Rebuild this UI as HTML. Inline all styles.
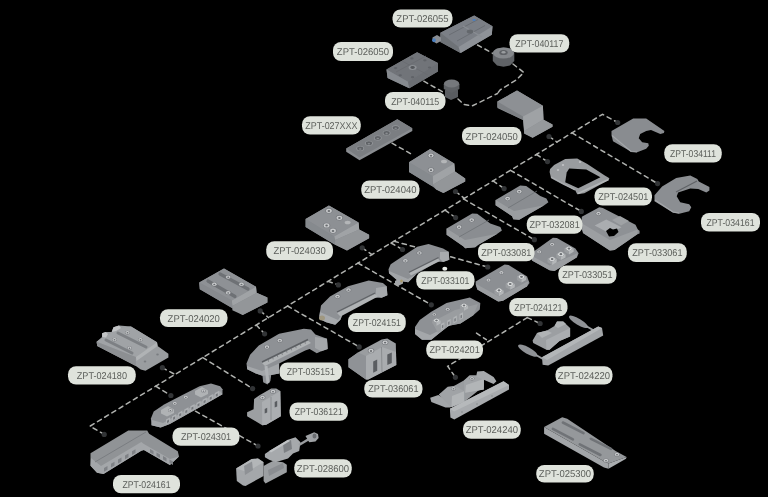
<!DOCTYPE html>
<html><head><meta charset="utf-8"><style>
html,body{margin:0;padding:0;background:#000;}
svg{display:block;will-change:transform;}
text{font-family:"Liberation Sans",sans-serif;font-size:9.9px;text-rendering:geometricPrecision;fill:#5a5d59;opacity:0.99;}
</style></head><body>
<svg width="768" height="497" viewBox="0 0 768 497">
<rect width="768" height="497" fill="#000"/>
<polyline points="104.2,434.4 90.0,426.2 602.5,114.3 617.7,122.5" stroke="#b0b2af" stroke-width="1.5" stroke-dasharray="4.4 4.0" fill="none" stroke-linecap="round"/>
<polyline points="572.0,132.9 657.6,183.6" stroke="#b0b2af" stroke-width="1.5" stroke-dasharray="4.4 4.0" fill="none" stroke-linecap="round"/>
<polyline points="536.5,154.5 547.5,161.6" stroke="#b0b2af" stroke-width="1.5" stroke-dasharray="4.4 4.0" fill="none" stroke-linecap="round"/>
<polyline points="510.5,170.3 581.3,211.4" stroke="#b0b2af" stroke-width="1.5" stroke-dasharray="4.4 4.0" fill="none" stroke-linecap="round"/>
<polyline points="493.0,180.9 504.1,188.6" stroke="#b0b2af" stroke-width="1.5" stroke-dasharray="4.4 4.0" fill="none" stroke-linecap="round"/>
<polyline points="463.5,198.9 534.4,239.7" stroke="#b0b2af" stroke-width="1.5" stroke-dasharray="4.4 4.0" fill="none" stroke-linecap="round"/>
<polyline points="445.0,210.2 455.6,217.6" stroke="#b0b2af" stroke-width="1.5" stroke-dasharray="4.4 4.0" fill="none" stroke-linecap="round"/>
<polyline points="394.0,241.2 487.7,267.0" stroke="#b0b2af" stroke-width="1.5" stroke-dasharray="4.4 4.0" fill="none" stroke-linecap="round"/>
<polyline points="391.0,243.0 402.5,249.5" stroke="#b0b2af" stroke-width="1.5" stroke-dasharray="4.4 4.0" fill="none" stroke-linecap="round"/>
<polyline points="358.0,263.1 431.3,304.8" stroke="#b0b2af" stroke-width="1.5" stroke-dasharray="4.4 4.0" fill="none" stroke-linecap="round"/>
<polyline points="328.0,281.4 338.4,284.9" stroke="#b0b2af" stroke-width="1.5" stroke-dasharray="4.4 4.0" fill="none" stroke-linecap="round"/>
<polyline points="287.5,306.0 359.2,346.9" stroke="#b0b2af" stroke-width="1.5" stroke-dasharray="4.4 4.0" fill="none" stroke-linecap="round"/>
<polyline points="256.3,325.0 264.6,333.8" stroke="#b0b2af" stroke-width="1.5" stroke-dasharray="4.4 4.0" fill="none" stroke-linecap="round"/>
<polyline points="202.8,357.6 252.6,388.6" stroke="#b0b2af" stroke-width="1.5" stroke-dasharray="4.4 4.0" fill="none" stroke-linecap="round"/>
<polyline points="155.7,386.2 170.9,395.5" stroke="#b0b2af" stroke-width="1.5" stroke-dasharray="4.4 4.0" fill="none" stroke-linecap="round"/>
<polyline points="549.0,136.5 557.0,142.0" stroke="#b0b2af" stroke-width="1.5" stroke-dasharray="4.4 4.0" fill="none" stroke-linecap="round"/>
<polyline points="455.5,191.5 464.4,198.3" stroke="#b0b2af" stroke-width="1.5" stroke-dasharray="4.4 4.0" fill="none" stroke-linecap="round"/>
<polyline points="362.2,247.8 372.0,254.6" stroke="#b0b2af" stroke-width="1.5" stroke-dasharray="4.4 4.0" fill="none" stroke-linecap="round"/>
<polyline points="260.2,310.9 268.5,317.6" stroke="#b0b2af" stroke-width="1.5" stroke-dasharray="4.4 4.0" fill="none" stroke-linecap="round"/>
<polyline points="162.4,367.7 175.0,374.5" stroke="#b0b2af" stroke-width="1.5" stroke-dasharray="4.4 4.0" fill="none" stroke-linecap="round"/>
<polyline points="195.5,411.2 258.0,446.0" stroke="#b0b2af" stroke-width="1.5" stroke-dasharray="4.4 4.0" fill="none" stroke-linecap="round"/>
<polyline points="476.5,333.1 486.4,339.7" stroke="#b0b2af" stroke-width="1.5" stroke-dasharray="4.4 4.0" fill="none" stroke-linecap="round"/>
<polyline points="527.3,317.6 447.7,366.3 455.4,377.3" stroke="#b0b2af" stroke-width="1.5" stroke-dasharray="4.4 4.0" fill="none" stroke-linecap="round"/>
<polyline points="527.3,317.6 540.1,323.5" stroke="#b0b2af" stroke-width="1.5" stroke-dasharray="4.4 4.0" fill="none" stroke-linecap="round"/>
<polyline points="477.5,45.0 494.0,54.0" stroke="#b0b2af" stroke-width="1.5" stroke-dasharray="4.4 4.0" fill="none" stroke-linecap="round"/>
<polyline points="513.0,64.0 523.8,72.5 516.2,80.0 500.0,90.0 497.5,93.5" stroke="#b0b2af" stroke-width="1.5" stroke-dasharray="4.4 4.0" fill="none" stroke-linecap="round"/>
<polyline points="423.8,81.2 443.0,92.0" stroke="#b0b2af" stroke-width="1.5" stroke-dasharray="4.4 4.0" fill="none" stroke-linecap="round"/>
<polyline points="458.0,99.0 464.0,104.5 472.0,106.0 497.5,93.5" stroke="#b0b2af" stroke-width="1.5" stroke-dasharray="4.4 4.0" fill="none" stroke-linecap="round"/>
<polyline points="392.0,143.2 413.0,155.0" stroke="#b0b2af" stroke-width="1.5" stroke-dasharray="4.4 4.0" fill="none" stroke-linecap="round"/>
<circle cx="657.6" cy="183.6" r="2.6" fill="#323436"/>
<circle cx="547.5" cy="161.6" r="2.6" fill="#323436"/>
<circle cx="581.3" cy="211.4" r="2.6" fill="#323436"/>
<circle cx="504.1" cy="188.6" r="2.6" fill="#323436"/>
<circle cx="534.4" cy="239.7" r="2.6" fill="#323436"/>
<circle cx="455.6" cy="217.6" r="2.6" fill="#323436"/>
<circle cx="487.7" cy="267.0" r="2.6" fill="#323436"/>
<circle cx="402.5" cy="249.5" r="2.6" fill="#323436"/>
<circle cx="431.3" cy="304.8" r="2.6" fill="#323436"/>
<circle cx="338.4" cy="284.9" r="2.6" fill="#323436"/>
<circle cx="359.2" cy="346.9" r="2.6" fill="#323436"/>
<circle cx="264.6" cy="333.8" r="2.6" fill="#323436"/>
<circle cx="252.6" cy="388.6" r="2.6" fill="#323436"/>
<circle cx="170.9" cy="395.5" r="2.6" fill="#323436"/>
<circle cx="549.0" cy="136.5" r="2.6" fill="#323436"/>
<circle cx="455.5" cy="191.5" r="2.6" fill="#323436"/>
<circle cx="362.2" cy="247.8" r="2.6" fill="#323436"/>
<circle cx="260.2" cy="310.9" r="2.6" fill="#323436"/>
<circle cx="162.4" cy="367.7" r="2.6" fill="#323436"/>
<circle cx="617.7" cy="122.5" r="2.6" fill="#323436"/>
<circle cx="104.2" cy="434.4" r="2.6" fill="#323436"/>
<circle cx="258.0" cy="446.0" r="2.6" fill="#323436"/>
<circle cx="455.4" cy="377.3" r="2.6" fill="#323436"/>
<circle cx="540.1" cy="323.5" r="2.6" fill="#323436"/>
<polygon points="440.4,32.7 474.2,15.6 492.5,26.2 491.8,34.7 460.6,52.9 440.4,41.9" fill="#7c7f84" />
<polygon points="440.4,32.7 474.2,15.6 492.5,26.2 458.6,47.0" fill="#7b7f86" />
<polygon points="440.4,32.7 458.6,47.0 460.6,52.9 440.4,41.9" fill="#6e7277" />
<polygon points="458.6,47.0 492.5,26.2 491.8,34.7 460.6,52.9" fill="#8e9298" />
<polyline points="449.0,35.0 478.0,19.5" fill="none" stroke="#6a6e74" stroke-width="1" />
<polyline points="457.0,41.0 485.0,25.5" fill="none" stroke="#6a6e74" stroke-width="1" />
<polyline points="463.0,26.0 482.0,37.0" fill="none" stroke="#8a8e94" stroke-width="1.2" />
<ellipse cx="470.0" cy="31.5" rx="3.2" ry="2" fill="#63676c" />
<ellipse cx="474.0" cy="20.0" rx="1.6" ry="1" fill="#4a7fc0" />
<polygon points="432.5,37.5 437.0,35.0 441.0,37.5 441.0,41.0 436.5,43.5 432.5,41.0" fill="#8a8d92" />
<ellipse cx="434.0" cy="40.3" rx="1.8" ry="2" fill="#4a7fc0" />
<polygon points="492.8,52.0 497.0,48.5 503.5,47.5 510.0,48.5 514.3,52.0 514.3,61.0 510.0,65.5 503.5,66.7 497.0,65.5 492.8,61.0" fill="#606367" />
<ellipse cx="503.5" cy="53.0" rx="10.5" ry="5.5" fill="#85888c" />
<ellipse cx="503.5" cy="52.5" rx="4.2" ry="2.6" fill="#5f6266" />
<ellipse cx="503.5" cy="52.2" rx="2" ry="1.2" fill="#9a9da0" />
<polygon points="386.5,69.4 417.1,52.2 437.9,62.9 437.9,71.4 409.3,88.3 387.6,77.9" fill="#7a7d82" />
<polygon points="386.5,69.4 417.1,52.2 437.9,62.9 408.0,81.8" fill="#717479" />
<polygon points="386.5,69.4 408.0,81.8 409.3,88.3 387.6,77.9" fill="#868a8f" />
<polygon points="408.0,81.8 437.9,62.9 437.9,71.4 409.3,88.3" fill="#6c6f74" />
<polyline points="396.0,72.0 426.0,56.0" fill="none" stroke="#686b70" stroke-width="0.8" />
<polyline points="402.0,61.0 428.0,75.0" fill="none" stroke="#686b70" stroke-width="0.8" />
<ellipse cx="411.9" cy="58.4" rx="1.7" ry="1.1" fill="#606368" />
<ellipse cx="424.9" cy="60.3" rx="1.7" ry="1.1" fill="#606368" />
<ellipse cx="395.6" cy="68.1" rx="1.7" ry="1.1" fill="#606368" />
<ellipse cx="429.5" cy="67.5" rx="1.7" ry="1.1" fill="#606368" />
<ellipse cx="400.2" cy="75.3" rx="1.7" ry="1.1" fill="#606368" />
<ellipse cx="412.6" cy="77.2" rx="1.7" ry="1.1" fill="#606368" />
<ellipse cx="412.6" cy="67.5" rx="4" ry="2.5" fill="#8d9095" />
<ellipse cx="412.6" cy="67.5" rx="2.2" ry="1.4" fill="#55585c" />
<polygon points="445.0,90.0 445.0,97.0 451.0,100.0 458.0,97.0 458.0,90.0" fill="#5a5d61" />
<ellipse cx="451.6" cy="84.5" rx="7.8" ry="4.2" fill="#6a6d71" />
<polygon points="443.8,84.5 443.8,89.0 451.6,93.0 459.4,89.0 459.4,84.5" fill="#5e6165" />
<ellipse cx="451.6" cy="83.5" rx="7.5" ry="4" fill="#75787c" />
<polygon points="346.2,148.5 397.3,119.2 412.3,128.3 412.3,130.9 359.5,160.2 346.2,151.7" fill="#8a8d91" />
<polygon points="346.2,148.5 397.3,119.2 412.3,128.3 359.5,157.6" fill="#7b7e82" />
<ellipse cx="360.2" cy="148.5" rx="3.9" ry="2.5" fill="#95989c" />
<ellipse cx="360.2" cy="148.5" rx="3.1" ry="1.9" fill="#5f6266" />
<ellipse cx="360.2" cy="149.0" rx="1.3" ry="0.8" fill="#8a8d91" />
<ellipse cx="368.9" cy="143.2" rx="3.9" ry="2.5" fill="#95989c" />
<ellipse cx="368.9" cy="143.2" rx="3.1" ry="1.9" fill="#5f6266" />
<ellipse cx="368.9" cy="143.7" rx="1.3" ry="0.8" fill="#8a8d91" />
<ellipse cx="377.8" cy="138.0" rx="3.9" ry="2.5" fill="#95989c" />
<ellipse cx="377.8" cy="138.0" rx="3.1" ry="1.9" fill="#5f6266" />
<ellipse cx="377.8" cy="138.5" rx="1.3" ry="0.8" fill="#8a8d91" />
<ellipse cx="386.6" cy="132.9" rx="3.9" ry="2.5" fill="#95989c" />
<ellipse cx="386.6" cy="132.9" rx="3.1" ry="1.9" fill="#5f6266" />
<ellipse cx="386.6" cy="133.4" rx="1.3" ry="0.8" fill="#8a8d91" />
<ellipse cx="395.7" cy="127.8" rx="3.9" ry="2.5" fill="#95989c" />
<ellipse cx="395.7" cy="127.8" rx="3.1" ry="1.9" fill="#5f6266" />
<ellipse cx="395.7" cy="128.3" rx="1.3" ry="0.8" fill="#8a8d91" />
<polygon points="497.4,101.5 517.0,90.6 542.9,105.7 543.5,120.0 552.5,124.4 552.5,126.8 532.6,137.7 524.2,133.5 523.0,120.0 497.4,108.0" fill="#8a8d91" />
<polygon points="497.4,101.5 517.0,90.6 542.9,105.7 523.0,116.6" fill="#8d9094" />
<polygon points="523.0,116.6 542.9,105.7 543.5,119.5 524.2,131.0" fill="#9fa2a5" />
<polygon points="524.2,131.0 543.5,119.5 552.5,124.4 552.5,126.8 532.6,137.7 524.2,133.5" fill="#96999c" />
<polygon points="497.4,101.5 523.0,116.6 523.0,120.0 497.4,107.0" fill="#7d8084" />
<polygon points="409.0,162.3 430.2,149.0 454.3,163.5 455.0,171.5 465.2,178.6 465.2,181.6 443.4,193.0 436.2,189.5 432.6,186.4 409.0,172.0" fill="#86898d" />
<polygon points="409.0,162.3 430.2,149.0 454.3,163.5 432.6,176.2" fill="#8d9094" />
<polygon points="432.6,176.2 454.3,163.5 455.0,171.5 433.2,184.6" fill="#a0a3a6" />
<polygon points="433.2,184.6 455.0,171.5 465.2,178.6 465.2,181.6 443.4,193.0 436.2,189.5" fill="#939699" />
<polygon points="409.0,162.3 432.6,176.2 432.6,186.4 409.0,172.0" fill="#868a8e" />
<ellipse cx="431.0" cy="155.5" rx="3.25" ry="2.4375" fill="#76797d" /><ellipse cx="431.0" cy="155.5" rx="2.6" ry="1.9500000000000002" fill="#c8cacc" /><ellipse cx="431.0" cy="155.7" rx="1.1700000000000002" ry="0.8775000000000001" fill="#6a6d71" />
<ellipse cx="431.0" cy="170.0" rx="3.25" ry="2.4375" fill="#76797d" /><ellipse cx="431.0" cy="170.0" rx="2.6" ry="1.9500000000000002" fill="#c8cacc" /><ellipse cx="431.0" cy="170.2" rx="1.1700000000000002" ry="0.8775000000000001" fill="#6a6d71" />
<ellipse cx="444.0" cy="161.5" rx="3" ry="1.8" fill="#b4b6b8" />
<polygon points="305.6,219.0 328.9,205.6 358.6,222.5 359.2,229.5 369.1,234.7 369.1,238.2 347.0,250.5 334.0,244.0 305.6,227.0" fill="#86898d" />
<polygon points="305.6,219.0 328.9,205.6 358.6,222.5 334.2,236.5" fill="#8d9094" />
<polygon points="334.2,236.5 358.6,222.5 359.2,229.5 335.3,240.0" fill="#a0a3a6" />
<polygon points="335.3,240.0 359.2,229.5 369.1,234.7 369.1,238.2 347.0,250.5 334.5,244.5" fill="#939699" />
<polygon points="305.6,219.0 334.2,236.5 334.5,244.5 305.6,227.0" fill="#868a8e" />
<ellipse cx="328.9" cy="210.8" rx="3.625" ry="2.71875" fill="#76797d" /><ellipse cx="328.9" cy="210.8" rx="2.9" ry="2.175" fill="#c8cacc" /><ellipse cx="328.9" cy="211.0" rx="1.305" ry="0.9787499999999999" fill="#6a6d71" />
<ellipse cx="339.4" cy="217.8" rx="3.625" ry="2.71875" fill="#76797d" /><ellipse cx="339.4" cy="217.8" rx="2.9" ry="2.175" fill="#c8cacc" /><ellipse cx="339.4" cy="218.0" rx="1.305" ry="0.9787499999999999" fill="#6a6d71" />
<ellipse cx="326.6" cy="225.4" rx="3.625" ry="2.71875" fill="#76797d" /><ellipse cx="326.6" cy="225.4" rx="2.9" ry="2.175" fill="#c8cacc" /><ellipse cx="326.6" cy="225.6" rx="1.305" ry="0.9787499999999999" fill="#6a6d71" />
<ellipse cx="333.0" cy="230.7" rx="3.625" ry="2.71875" fill="#76797d" /><ellipse cx="333.0" cy="230.7" rx="2.9" ry="2.175" fill="#c8cacc" /><ellipse cx="333.0" cy="230.9" rx="1.305" ry="0.9787499999999999" fill="#6a6d71" />
<ellipse cx="347.6" cy="222.5" rx="3" ry="1.8" fill="#b4b6b8" />
<polygon points="199.2,282.5 224.0,268.6 256.0,286.7 256.6,292.8 267.4,297.6 267.4,302.4 242.7,315.1 231.8,308.0 199.8,289.2" fill="#86898d" />
<polygon points="199.2,282.5 224.0,268.6 256.0,286.7 231.8,300.6" fill="#8e9195" />
<polygon points="231.8,300.6 256.0,286.7 256.6,292.8 232.4,306.0" fill="#a0a3a6" />
<polygon points="232.4,306.0 256.6,292.8 267.4,297.6 267.4,302.4 242.7,315.1 232.4,310.3" fill="#939699" />
<polygon points="199.2,282.5 231.8,300.6 232.4,308.0 199.8,289.2" fill="#878a8e" />
<polyline points="208.0,281.0 235.0,296.5" fill="none" stroke="#6e7175" stroke-width="3.2" stroke-linecap="round"/>
<polyline points="220.0,274.0 248.0,289.0" fill="none" stroke="#6e7175" stroke-width="3.2" stroke-linecap="round"/>
<ellipse cx="214.3" cy="284.3" rx="2.875" ry="2.15625" fill="#76797d" /><ellipse cx="214.3" cy="284.3" rx="2.3" ry="1.7249999999999999" fill="#c8cacc" /><ellipse cx="214.3" cy="284.5" rx="1.035" ry="0.77625" fill="#6a6d71" />
<ellipse cx="228.2" cy="292.8" rx="2.875" ry="2.15625" fill="#76797d" /><ellipse cx="228.2" cy="292.8" rx="2.3" ry="1.7249999999999999" fill="#c8cacc" /><ellipse cx="228.2" cy="293.0" rx="1.035" ry="0.77625" fill="#6a6d71" />
<ellipse cx="228.2" cy="277.1" rx="2.875" ry="2.15625" fill="#76797d" /><ellipse cx="228.2" cy="277.1" rx="2.3" ry="1.7249999999999999" fill="#c8cacc" /><ellipse cx="228.2" cy="277.3" rx="1.035" ry="0.77625" fill="#6a6d71" />
<ellipse cx="241.5" cy="284.3" rx="2.875" ry="2.15625" fill="#76797d" /><ellipse cx="241.5" cy="284.3" rx="2.3" ry="1.7249999999999999" fill="#c8cacc" /><ellipse cx="241.5" cy="284.5" rx="1.035" ry="0.77625" fill="#6a6d71" />
<polygon points="96.6,341.7 102.1,336.9 102.1,333.3 105.7,332.1 111.7,332.1 113.5,327.2 119.0,325.4 131.0,326.6 157.0,342.3 157.6,346.0 168.4,353.8 168.4,357.4 145.5,370.7 140.7,369.5 135.9,365.9 97.2,345.9" fill="#9a9da0" />
<polygon points="96.6,341.7 119.0,328.0 131.0,326.6 157.0,342.3 135.9,357.0" fill="#a0a3a6" />
<polygon points="135.9,357.0 157.0,342.3 157.6,346.0 136.5,361.0" fill="#b0b3b5" />
<polygon points="96.6,341.7 135.9,357.0 135.9,365.9 97.2,345.9" fill="#8c8f92" />
<polyline points="106.0,340.0 132.0,353.0" fill="none" stroke="#7d8084" stroke-width="3" stroke-linecap="round"/>
<polyline points="118.0,333.0 146.0,347.0" fill="none" stroke="#7d8084" stroke-width="3" stroke-linecap="round"/>
<ellipse cx="114.5" cy="339.5" rx="2.5" ry="1.875" fill="#76797d" /><ellipse cx="114.5" cy="339.5" rx="2.0" ry="1.5" fill="#c8cacc" /><ellipse cx="114.5" cy="339.7" rx="0.9" ry="0.675" fill="#6a6d71" />
<ellipse cx="129.5" cy="348.0" rx="2.5" ry="1.875" fill="#76797d" /><ellipse cx="129.5" cy="348.0" rx="2.0" ry="1.5" fill="#c8cacc" /><ellipse cx="129.5" cy="348.2" rx="0.9" ry="0.675" fill="#6a6d71" />
<ellipse cx="127.5" cy="332.5" rx="2.5" ry="1.875" fill="#76797d" /><ellipse cx="127.5" cy="332.5" rx="2.0" ry="1.5" fill="#c8cacc" /><ellipse cx="127.5" cy="332.7" rx="0.9" ry="0.675" fill="#6a6d71" />
<ellipse cx="140.5" cy="339.5" rx="2.5" ry="1.875" fill="#76797d" /><ellipse cx="140.5" cy="339.5" rx="2.0" ry="1.5" fill="#c8cacc" /><ellipse cx="140.5" cy="339.7" rx="0.9" ry="0.675" fill="#6a6d71" />
<ellipse cx="157.5" cy="354.5" rx="1.3" ry="0.9" fill="#7a7d81" />
<ellipse cx="145.0" cy="361.5" rx="1.3" ry="0.9" fill="#7a7d81" />
<polygon points="102.1,336.9 102.1,333.3 105.7,332.1 108.0,334.0 106.0,337.5" fill="#c2c4c6" />
<polygon points="111.7,332.1 113.5,327.2 119.0,325.4 121.0,328.0 116.0,331.0" fill="#c2c4c6" />
<polygon points="611.5,131.1 633.2,118.6 646.2,118.6 664.4,131.1 663.9,133.1 660.3,134.1 651.0,130.0 646.2,131.1 640.2,134.1 638.7,138.2 642.2,142.2 648.3,143.2 648.8,145.7 646.2,148.7 637.2,152.3 631.2,151.7 613.0,141.2 611.5,135.1" fill="#898c90" />
<polyline points="612.0,135.5 631.0,151.5 637.0,152.0" fill="none" stroke="#a3a6a9" stroke-width="1.2" />
<polygon points="654.5,195.2 662.1,186.6 676.2,178.1 690.3,175.5 697.3,179.1 698.8,181.6 709.4,187.1 709.4,190.6 706.3,192.6 698.3,189.1 690.3,188.6 678.2,192.6 676.7,196.2 680.2,202.2 689.2,204.2 691.3,207.2 689.2,211.3 679.2,213.8 673.2,212.8 654.5,201.2" fill="#8b8e92" />
<polyline points="655.0,200.0 673.0,212.0 679.0,213.0" fill="none" stroke="#a3a6a9" stroke-width="1.2" />
<polyline points="676.0,192.0 697.0,181.0" fill="none" stroke="#5f6266" stroke-width="1.2" />
<polygon points="550.1,169.1 554.1,165.1 565.2,159.1 577.2,158.6 587.3,164.1 604.4,175.2 609.4,178.2 608.4,180.2 584.3,193.3 577.2,194.3 575.2,190.2 563.1,184.7 551.1,178.2 549.6,172.1" fill="#999c9f" />
<polygon points="566.7,172.6 569.2,168.6 586.3,169.6 600.4,177.2 578.2,188.2 565.2,182.2" fill="#000" />
<polyline points="578.0,193.5 608.5,179.5" fill="none" stroke="#b3b6b8" stroke-width="1.6" />
<polyline points="551.0,177.0 575.0,190.0" fill="none" stroke="#aaadb0" stroke-width="1.4" />
<ellipse cx="558.0" cy="170.0" rx="1.2" ry="0.9" fill="#c0c2c4" />
<ellipse cx="563.0" cy="165.0" rx="1.2" ry="0.9" fill="#c0c2c4" />
<ellipse cx="580.0" cy="162.0" rx="1.2" ry="0.9" fill="#c0c2c4" />
<polygon points="495.6,200.1 520.2,185.6 526.2,186.1 540.3,196.1 546.4,198.6 548.4,202.2 544.3,205.2 525.2,216.2 519.2,219.8 513.2,219.3 512.2,216.2 495.6,205.2" fill="#8a8d91" />
<polygon points="495.6,205.2 495.6,200.1 514.0,211.0 544.3,205.2 525.2,216.2 519.2,219.8 513.2,219.3 512.2,216.2" fill="#9a9da0" />
<polyline points="508.0,208.0 537.0,191.0" fill="none" stroke="#6f7276" stroke-width="0.8" />
<ellipse cx="507.6" cy="198.6" rx="3.0" ry="2.25" fill="#76797d" /><ellipse cx="507.6" cy="198.6" rx="2.4" ry="1.7999999999999998" fill="#c8cacc" /><ellipse cx="507.6" cy="198.8" rx="1.08" ry="0.8099999999999999" fill="#6a6d71" />
<ellipse cx="519.2" cy="191.6" rx="3.0" ry="2.25" fill="#76797d" /><ellipse cx="519.2" cy="191.6" rx="2.4" ry="1.7999999999999998" fill="#c8cacc" /><ellipse cx="519.2" cy="191.8" rx="1.08" ry="0.8099999999999999" fill="#6a6d71" />
<polygon points="446.6,228.6 472.2,213.5 477.2,213.8 490.3,223.6 500.4,227.1 501.9,230.6 497.4,233.7 478.3,244.7 475.2,247.2 465.2,248.3 463.2,246.2 446.6,234.7" fill="#8a8d91" />
<polygon points="446.6,234.7 446.6,228.6 465.0,240.0 497.4,233.7 478.3,244.7 475.2,247.2 465.2,248.3 463.2,246.2" fill="#9a9da0" />
<polyline points="459.0,237.0 489.0,220.0" fill="none" stroke="#6f7276" stroke-width="0.8" />
<ellipse cx="459.1" cy="227.1" rx="3.0" ry="2.25" fill="#76797d" /><ellipse cx="459.1" cy="227.1" rx="2.4" ry="1.7999999999999998" fill="#c8cacc" /><ellipse cx="459.1" cy="227.3" rx="1.08" ry="0.8099999999999999" fill="#6a6d71" />
<ellipse cx="471.7" cy="220.1" rx="3.0" ry="2.25" fill="#76797d" /><ellipse cx="471.7" cy="220.1" rx="2.4" ry="1.7999999999999998" fill="#c8cacc" /><ellipse cx="471.7" cy="220.3" rx="1.08" ry="0.8099999999999999" fill="#6a6d71" />
<polygon points="581.8,216.7 599.3,207.3 602.8,207.9 635.5,224.8 637.8,229.5 639.6,230.7 639.6,233.6 637.3,234.2 614.5,249.9 609.8,250.5 583.0,233.0 581.3,228.3" fill="#8e9195" />
<polygon points="583.0,224.0 609.8,240.0 637.8,229.5 637.3,234.2 614.5,249.9 609.8,250.5 583.0,233.0" fill="#9c9fa2" />
<polygon points="594.7,225.4 606.3,219.6 621.5,227.2 609.8,233.6" fill="#aaadb0" />
<polygon points="612.0,220.0 620.0,216.0 629.0,221.0 621.0,225.5" fill="#9fa2a5" />
<polygon points="606.0,231.0 610.0,228.0 613.0,229.5 617.0,228.5 618.5,232.0 614.0,236.0 609.0,236.5" fill="#000" />
<ellipse cx="598.5" cy="213.5" rx="2.75" ry="2.0625" fill="#76797d" /><ellipse cx="598.5" cy="213.5" rx="2.2" ry="1.6500000000000001" fill="#c8cacc" /><ellipse cx="598.5" cy="213.7" rx="0.9900000000000001" ry="0.7425" fill="#6a6d71" />
<polygon points="534.4,250.9 552.9,237.7 556.9,238.0 575.4,248.5 578.6,253.3 577.0,257.3 554.5,271.0 549.6,270.2 532.0,260.6 531.1,255.7" fill="#8c8f93" />
<polygon points="532.0,256.0 549.6,265.5 577.0,253.5 577.0,257.3 554.5,271.0 549.6,270.2 532.0,260.6" fill="#9b9ea1" />
<polygon points="564.4,248.6 569.0,246.0 573.6,248.6 569.0,251.2" fill="#a9acaf" /><polygon points="564.4,248.6 569.0,251.2 569.0,254.4 564.4,251.8" fill="#9a9da0" /><polygon points="569.0,251.2 573.6,248.6 573.6,251.8 569.0,254.4" fill="#b4b7b9" /><ellipse cx="569.0" cy="248.6" rx="2.6" ry="1.9" fill="#e2e4e4" /><ellipse cx="569.0" cy="248.6" rx="1.5" ry="1.1" fill="#6e7175" />
<polygon points="556.3,254.2 560.9,251.6 565.5,254.2 560.9,256.8" fill="#a9acaf" /><polygon points="556.3,254.2 560.9,256.8 560.9,260.0 556.3,257.4" fill="#9a9da0" /><polygon points="560.9,256.8 565.5,254.2 565.5,257.4 560.9,260.0" fill="#b4b7b9" /><ellipse cx="560.9" cy="254.2" rx="2.6" ry="1.9" fill="#e2e4e4" /><ellipse cx="560.9" cy="254.2" rx="1.5" ry="1.1" fill="#6e7175" />
<polygon points="547.5,259.1 552.1,256.5 556.7,259.1 552.1,261.7" fill="#a9acaf" /><polygon points="547.5,259.1 552.1,261.7 552.1,264.9 547.5,262.3" fill="#9a9da0" /><polygon points="552.1,261.7 556.7,259.1 556.7,262.3 552.1,264.9" fill="#b4b7b9" /><ellipse cx="552.1" cy="259.1" rx="2.6" ry="1.9" fill="#e2e4e4" /><ellipse cx="552.1" cy="259.1" rx="1.5" ry="1.1" fill="#6e7175" />
<ellipse cx="552.1" cy="244.2" rx="2.5" ry="1.875" fill="#76797d" /><ellipse cx="552.1" cy="244.2" rx="2" ry="1.5" fill="#c8cacc" /><ellipse cx="552.1" cy="244.4" rx="0.9" ry="0.675" fill="#6a6d71" />
<ellipse cx="539.2" cy="251.7" rx="2.5" ry="1.875" fill="#76797d" /><ellipse cx="539.2" cy="251.7" rx="2" ry="1.5" fill="#c8cacc" /><ellipse cx="539.2" cy="251.9" rx="0.9" ry="0.675" fill="#6a6d71" />
<polygon points="475.7,281.5 504.6,264.6 508.6,265.1 527.1,276.6 529.5,283.1 527.1,286.3 503.0,300.8 498.2,301.6 477.3,289.5 475.7,284.7" fill="#8c8f93" />
<polygon points="476.0,284.0 499.0,296.5 528.5,281.0 527.1,286.3 503.0,300.8 498.2,301.6 477.3,289.5" fill="#9b9ea1" />
<polygon points="516.9,276.8 521.5,274.2 526.1,276.8 521.5,279.4" fill="#a9acaf" /><polygon points="516.9,276.8 521.5,279.4 521.5,282.6 516.9,280.0" fill="#9a9da0" /><polygon points="521.5,279.4 526.1,276.8 526.1,280.0 521.5,282.6" fill="#b4b7b9" /><ellipse cx="521.5" cy="276.8" rx="2.6" ry="1.9" fill="#e2e4e4" /><ellipse cx="521.5" cy="276.8" rx="1.5" ry="1.1" fill="#6e7175" />
<polygon points="505.6,284.0 510.2,281.4 514.8,284.0 510.2,286.6" fill="#a9acaf" /><polygon points="505.6,284.0 510.2,286.6 510.2,289.8 505.6,287.2" fill="#9a9da0" /><polygon points="510.2,286.6 514.8,284.0 514.8,287.2 510.2,289.8" fill="#b4b7b9" /><ellipse cx="510.2" cy="284.0" rx="2.6" ry="1.9" fill="#e2e4e4" /><ellipse cx="510.2" cy="284.0" rx="1.5" ry="1.1" fill="#6e7175" />
<polygon points="494.4,290.4 499.0,287.8 503.6,290.4 499.0,293.0" fill="#a9acaf" /><polygon points="494.4,290.4 499.0,293.0 499.0,296.2 494.4,293.6" fill="#9a9da0" /><polygon points="499.0,293.0 503.6,290.4 503.6,293.6 499.0,296.2" fill="#b4b7b9" /><ellipse cx="499.0" cy="290.4" rx="2.6" ry="1.9" fill="#e2e4e4" /><ellipse cx="499.0" cy="290.4" rx="1.5" ry="1.1" fill="#6e7175" />
<ellipse cx="501.4" cy="272.6" rx="2.5" ry="1.875" fill="#76797d" /><ellipse cx="501.4" cy="272.6" rx="2" ry="1.5" fill="#c8cacc" /><ellipse cx="501.4" cy="272.8" rx="0.9" ry="0.675" fill="#6a6d71" />
<ellipse cx="488.5" cy="279.9" rx="2.5" ry="1.875" fill="#76797d" /><ellipse cx="488.5" cy="279.9" rx="2" ry="1.5" fill="#c8cacc" /><ellipse cx="488.5" cy="280.1" rx="0.9" ry="0.675" fill="#6a6d71" />
<polygon points="388.5,269.2 390.7,264.2 417.2,246.7 428.5,243.9 443.1,248.4 448.7,251.8 449.3,259.7 443.1,261.9 437.5,261.4 417.2,273.2 408.2,282.2 400.3,281.1 396.9,280.0 389.0,273.2" fill="#8c8f93" />
<polygon points="389.0,271.0 408.0,279.0 437.5,261.4 417.2,273.2 408.2,282.2 400.3,281.1 396.9,280.0 389.0,273.2" fill="#a2a5a8" />
<polygon points="440.0,252.0 448.7,251.8 449.3,259.7 443.1,261.9 440.0,259.0" fill="#a8abae" />
<polygon points="409.0,273.0 438.0,258.5 440.0,261.0 411.0,275.5" fill="#b0b3b5" />
<polyline points="409.0,272.2 438.5,257.5" fill="none" stroke="#606367" stroke-width="1.2" />
<polygon points="395.0,281.0 400.0,278.0 403.0,280.0 403.0,283.5 398.0,286.0 395.0,284.0" fill="#a3a6a9" />
<ellipse cx="401.5" cy="281.0" rx="1.3" ry="1.6" fill="#a89a6a" />
<ellipse cx="405.4" cy="260.8" rx="2.875" ry="2.15625" fill="#76797d" /><ellipse cx="405.4" cy="260.8" rx="2.3" ry="1.7249999999999999" fill="#c8cacc" /><ellipse cx="405.4" cy="261.0" rx="1.035" ry="0.77625" fill="#6a6d71" />
<ellipse cx="419.4" cy="252.9" rx="2.875" ry="2.15625" fill="#76797d" /><ellipse cx="419.4" cy="252.9" rx="2.3" ry="1.7249999999999999" fill="#c8cacc" /><ellipse cx="419.4" cy="253.1" rx="1.035" ry="0.77625" fill="#6a6d71" />
<ellipse cx="444.8" cy="268.7" rx="2.5" ry="2" fill="#e8eae6" />
<polygon points="320.4,309.4 321.0,305.5 330.0,296.5 348.1,286.2 368.7,280.4 382.9,283.0 386.7,286.2 387.4,295.2 381.6,297.8 372.6,297.8 342.9,313.2 340.4,319.7 335.2,324.8 326.2,322.3 319.7,319.0 319.1,315.8" fill="#8e9195" />
<polygon points="320.0,312.0 338.0,320.0 342.9,313.2 340.4,319.7 335.2,324.8 326.2,322.3 319.7,319.0" fill="#a6a9ac" />
<polygon points="376.0,288.0 386.7,286.2 387.4,295.2 381.6,297.8 376.0,296.0" fill="#a6a9ac" />
<polygon points="337.0,313.0 375.0,294.0 378.0,296.5 340.5,316.5" fill="#b0b3b5" />
<polyline points="337.0,312.0 375.0,293.0" fill="none" stroke="#606367" stroke-width="1.3" />
<ellipse cx="337.5" cy="296.5" rx="2.875" ry="2.15625" fill="#76797d" /><ellipse cx="337.5" cy="296.5" rx="2.3" ry="1.7249999999999999" fill="#c8cacc" /><ellipse cx="337.5" cy="296.7" rx="1.035" ry="0.77625" fill="#6a6d71" />
<ellipse cx="348.5" cy="290.0" rx="2.875" ry="2.15625" fill="#76797d" /><ellipse cx="348.5" cy="290.0" rx="2.3" ry="1.7249999999999999" fill="#c8cacc" /><ellipse cx="348.5" cy="290.2" rx="1.035" ry="0.77625" fill="#6a6d71" />
<ellipse cx="322.0" cy="318.0" rx="3" ry="2.5" fill="#a09880" />
<polygon points="246.5,363.5 250.1,354.8 258.8,345.4 279.1,333.8 303.8,328.7 311.0,329.4 315.4,334.5 327.0,338.8 327.7,349.0 321.2,351.2 316.8,353.3 309.6,349.0 305.2,350.4 279.1,363.5 279.1,373.6 271.2,375.1 270.4,380.9 267.5,384.5 263.2,382.3 262.5,375.8 255.9,373.6 247.2,369.3" fill="#8e9195" />
<polygon points="247.0,366.0 262.0,371.0 279.1,363.5 279.1,373.6 271.2,375.1 262.5,375.8 255.9,373.6 247.2,369.3" fill="#a4a7aa" />
<polygon points="315.0,337.0 327.0,338.8 327.7,349.0 321.2,351.2 315.0,348.0" fill="#a4a7aa" />
<polygon points="262.0,363.0 308.0,340.5 311.0,343.0 265.0,366.0" fill="#b0b3b5" />
<polyline points="262.0,362.0 308.0,339.5" fill="none" stroke="#5c5f63" stroke-width="1.4" />
<polyline points="268.0,359.5 268.6,361.7" fill="none" stroke="#6a6d71" stroke-width="0.7" />
<polyline points="272.6,357.2 273.2,359.4" fill="none" stroke="#6a6d71" stroke-width="0.7" />
<polyline points="277.2,355.0 277.8,357.2" fill="none" stroke="#6a6d71" stroke-width="0.7" />
<polyline points="281.8,352.8 282.4,354.9" fill="none" stroke="#6a6d71" stroke-width="0.7" />
<polyline points="286.4,350.5 287.0,352.7" fill="none" stroke="#6a6d71" stroke-width="0.7" />
<polyline points="291.0,348.2 291.6,350.4" fill="none" stroke="#6a6d71" stroke-width="0.7" />
<polyline points="295.6,346.0 296.2,348.2" fill="none" stroke="#6a6d71" stroke-width="0.7" />
<polyline points="300.2,343.8 300.8,345.9" fill="none" stroke="#6a6d71" stroke-width="0.7" />
<polyline points="304.8,341.5 305.4,343.7" fill="none" stroke="#6a6d71" stroke-width="0.7" />
<polyline points="266.0,366.0 268.0,383.0" fill="none" stroke="#b0b3b6" stroke-width="3" />
<ellipse cx="267.0" cy="347.0" rx="2.875" ry="2.15625" fill="#76797d" /><ellipse cx="267.0" cy="347.0" rx="2.3" ry="1.7249999999999999" fill="#c8cacc" /><ellipse cx="267.0" cy="347.2" rx="1.035" ry="0.77625" fill="#6a6d71" />
<ellipse cx="279.8" cy="340.5" rx="2.875" ry="2.15625" fill="#76797d" /><ellipse cx="279.8" cy="340.5" rx="2.3" ry="1.7249999999999999" fill="#c8cacc" /><ellipse cx="279.8" cy="340.7" rx="1.035" ry="0.77625" fill="#6a6d71" />
<polygon points="348.5,359.3 358.0,352.5 365.9,348.0 381.7,339.6 387.3,338.5 395.8,343.5 396.3,364.9 368.2,379.6 365.9,379.6 348.5,367.2" fill="#9a9da0" />
<polygon points="366.0,356.0 382.0,347.0 396.0,352.0 396.3,364.9 368.2,379.6 365.9,379.6" fill="#a9acaf" />
<polygon points="348.5,359.3 358.0,352.5 366.0,356.0 365.9,379.6 348.5,367.2" fill="#8f9296" />
<polyline points="381.5,347.0 382.0,372.0" fill="none" stroke="#8a8d90" stroke-width="1" />
<polygon points="373.2,361.5 377.2,359.5 377.2,370.8 373.2,372.8" fill="#5a5d61" />
<polygon points="387.3,354.5 391.8,352.5 391.8,362.9 387.3,364.9" fill="#5a5d61" />
<ellipse cx="371.0" cy="350.8" rx="3.25" ry="2.4375" fill="#76797d" /><ellipse cx="371.0" cy="350.8" rx="2.6" ry="1.9500000000000002" fill="#c8cacc" /><ellipse cx="371.0" cy="351.0" rx="1.1700000000000002" ry="0.8775000000000001" fill="#6a6d71" />
<ellipse cx="385.1" cy="342.4" rx="3.25" ry="2.4375" fill="#76797d" /><ellipse cx="385.1" cy="342.4" rx="2.6" ry="1.9500000000000002" fill="#c8cacc" /><ellipse cx="385.1" cy="342.6" rx="1.1700000000000002" ry="0.8775000000000001" fill="#6a6d71" />
<polygon points="247.1,412.2 253.6,409.2 254.1,399.1 259.1,395.6 271.2,388.6 276.2,388.6 280.3,391.1 280.8,416.2 266.2,424.8 262.2,425.3 247.1,416.2" fill="#9c9fa2" />
<polygon points="262.0,402.0 280.3,391.1 280.8,416.2 266.2,424.8 262.2,425.3" fill="#abaeb1" />
<polyline points="271.0,397.0 271.0,420.0" fill="none" stroke="#8a8d90" stroke-width="1" />
<polygon points="264.7,409.0 267.2,407.8 267.2,412.5 264.7,413.5" fill="#5a5d61" />
<polygon points="274.7,402.0 277.2,400.8 277.2,406.5 274.7,407.5" fill="#5a5d61" />
<ellipse cx="262.5" cy="397.5" rx="2.875" ry="2.15625" fill="#76797d" /><ellipse cx="262.5" cy="397.5" rx="2.3" ry="1.7249999999999999" fill="#c8cacc" /><ellipse cx="262.5" cy="397.7" rx="1.035" ry="0.77625" fill="#6a6d71" />
<ellipse cx="273.0" cy="391.5" rx="2.875" ry="2.15625" fill="#76797d" /><ellipse cx="273.0" cy="391.5" rx="2.3" ry="1.7249999999999999" fill="#c8cacc" /><ellipse cx="273.0" cy="391.7" rx="1.035" ry="0.77625" fill="#6a6d71" />
<polygon points="415.0,327.0 419.7,320.0 431.3,311.8 446.5,303.1 469.8,297.6 480.3,303.1 479.8,309.5 473.3,315.3 460.5,323.5 448.8,325.8 438.3,334.0 431.3,339.8 422.0,339.8 415.0,334.0" fill="#8e9195" />
<polygon points="415.0,329.0 430.0,335.0 448.8,325.8 438.3,334.0 431.3,339.8 422.0,339.8 415.0,334.0" fill="#a4a7aa" />
<polygon points="432.0,322.0 455.0,310.0 478.0,304.0 473.3,315.3 460.5,323.5 448.8,325.8 438.0,333.0" fill="#9a9da0" />
<polygon points="441.0,324.0 444.4,322.2 444.4,328.2 441.0,330.0" fill="#b2b5b7" />
<polygon points="441.9,325.4 443.4,324.6 443.4,327.6 441.9,328.4" fill="#7a7d81" />
<polygon points="447.2,320.7 450.6,318.9 450.6,324.9 447.2,326.7" fill="#b2b5b7" />
<polygon points="448.1,322.1 449.6,321.3 449.6,324.3 448.1,325.1" fill="#7a7d81" />
<polygon points="453.4,317.4 456.8,315.6 456.8,321.6 453.4,323.4" fill="#b2b5b7" />
<polygon points="454.3,318.8 455.8,318.0 455.8,321.0 454.3,321.8" fill="#7a7d81" />
<polygon points="459.6,314.1 463.0,312.3 463.0,318.3 459.6,320.1" fill="#b2b5b7" />
<polygon points="460.5,315.5 462.0,314.7 462.0,317.7 460.5,318.5" fill="#7a7d81" />
<polygon points="432.4,320.5 436.5,318.2 440.6,320.5 436.5,322.8" fill="#a9acaf" /><polygon points="432.4,320.5 436.5,322.8 436.5,325.7 432.4,323.4" fill="#9a9da0" /><polygon points="436.5,322.8 440.6,320.5 440.6,323.4 436.5,325.7" fill="#b4b7b9" /><ellipse cx="436.5" cy="320.5" rx="2.3400000000000003" ry="1.71" fill="#e2e4e4" /><ellipse cx="436.5" cy="320.5" rx="1.35" ry="0.9900000000000001" fill="#6e7175" />
<polygon points="459.9,305.5 464.0,303.2 468.1,305.5 464.0,307.8" fill="#a9acaf" /><polygon points="459.9,305.5 464.0,307.8 464.0,310.7 459.9,308.4" fill="#9a9da0" /><polygon points="464.0,307.8 468.1,305.5 468.1,308.4 464.0,310.7" fill="#b4b7b9" /><ellipse cx="464.0" cy="305.5" rx="2.3400000000000003" ry="1.71" fill="#e2e4e4" /><ellipse cx="464.0" cy="305.5" rx="1.35" ry="0.9900000000000001" fill="#6e7175" />
<ellipse cx="447.7" cy="309.3" rx="2.5" ry="1.875" fill="#76797d" /><ellipse cx="447.7" cy="309.3" rx="2.0" ry="1.5" fill="#c8cacc" /><ellipse cx="447.7" cy="309.5" rx="0.9" ry="0.675" fill="#6a6d71" />
<ellipse cx="434.3" cy="314.5" rx="2.25" ry="1.6875" fill="#76797d" /><ellipse cx="434.3" cy="314.5" rx="1.8" ry="1.35" fill="#c8cacc" /><ellipse cx="434.3" cy="314.7" rx="0.81" ry="0.6075" fill="#6a6d71" />
<ellipse cx="578.5" cy="321.8" rx="11" ry="3.1" fill="#8f9296" transform="rotate(31 578.5 321.8)"/>
<polyline points="586.0,326.0 593.0,330.0" fill="none" stroke="#9a9da0" stroke-width="2" />
<ellipse cx="527.8" cy="350.6" rx="11" ry="3.3" fill="#8f9296" transform="rotate(29 527.8 350.6)"/>
<polyline points="536.0,355.0 543.0,359.0" fill="none" stroke="#9a9da0" stroke-width="2" />
<polygon points="542.0,357.2 598.2,326.6 602.0,327.9 603.2,335.4 548.2,365.4 542.6,364.8" fill="#a3a6a9" />
<polygon points="542.0,357.2 598.2,326.6 602.0,327.9 547.0,360.0" fill="#b3b6b8" />
<polygon points="532.6,340.4 537.0,332.9 547.0,330.4 554.5,326.0 557.0,321.6 563.2,321.6 570.1,327.9 570.1,336.6 559.5,341.0 549.5,349.8 546.4,349.8 533.2,342.9" fill="#9c9fa2" />
<polygon points="546.0,340.0 570.1,327.9 570.1,336.6 559.5,341.0 549.5,349.8 546.4,349.8" fill="#aaadb0" />
<polygon points="537.0,332.9 547.0,330.4 552.0,333.0 542.0,338.0" fill="#b0b3b5" />
<polygon points="554.5,326.0 557.0,321.6 563.2,321.6 566.0,324.0 558.0,328.0" fill="#b0b3b5" />
<polygon points="430.2,397.7 438.4,395.0 449.9,402.1 451.5,407.0 449.9,407.6 445.5,407.6 431.3,402.1" fill="#a3a6a9" />
<polygon points="438.9,394.4 470.0,377.0 484.0,379.0 484.0,386.0 464.1,402.1 451.5,407.0" fill="#999c9f" />
<polygon points="438.9,394.4 447.7,386.8 455.4,385.7 464.1,391.2 464.1,402.1 451.5,407.0" fill="#a0a3a6" />
<polygon points="452.0,396.0 464.1,391.2 464.1,402.1 451.5,407.0" fill="#b2b5b7" />
<polygon points="464.1,380.2 469.6,375.3 476.1,375.3 483.8,379.1 483.8,389.5 465.2,392.8 464.1,391.2" fill="#a0a3a6" />
<polygon points="466.0,385.0 483.8,379.1 483.8,389.5 465.2,392.8" fill="#b2b5b7" />
<polygon points="477.2,371.5 483.8,370.9 493.6,376.9 496.4,381.3 493.6,384.0 484.9,380.2 476.1,376.4" fill="#a6a9ac" />
<polygon points="449.9,408.7 503.5,381.3 509.0,385.1 509.0,389.5 454.3,419.6 450.4,417.4" fill="#a8abae" />
<polygon points="449.9,408.7 503.5,381.3 509.0,385.1 454.0,411.5" fill="#b6b9bb" />
<ellipse cx="462.0" cy="412.0" rx="0.8" ry="0.8" fill="#85888b" />
<ellipse cx="477.0" cy="404.0" rx="0.8" ry="0.8" fill="#85888b" />
<ellipse cx="492.0" cy="396.0" rx="0.8" ry="0.8" fill="#85888b" />
<ellipse cx="453.5" cy="388.5" rx="2.5" ry="1.875" fill="#76797d" /><ellipse cx="453.5" cy="388.5" rx="2" ry="1.5" fill="#c8cacc" /><ellipse cx="453.5" cy="388.7" rx="0.9" ry="0.675" fill="#6a6d71" />
<ellipse cx="472.0" cy="378.5" rx="2.5" ry="1.875" fill="#76797d" /><ellipse cx="472.0" cy="378.5" rx="2" ry="1.5" fill="#c8cacc" /><ellipse cx="472.0" cy="378.7" rx="0.9" ry="0.675" fill="#6a6d71" />
<polygon points="150.9,418.4 153.7,411.5 164.1,404.6 182.4,394.9 199.6,386.3 211.0,383.4 220.2,386.3 222.5,389.2 222.5,394.3 206.4,403.5 169.8,424.1 160.6,427.5 151.5,425.3" fill="#8e9195" />
<polygon points="152.0,420.0 163.0,423.0 220.0,391.0 222.5,394.3 206.4,403.5 169.8,424.1 160.6,427.5 151.5,425.3" fill="#a4a7aa" />
<polygon points="166.0,419.5 170.2,417.2 170.2,422.1 166.0,424.4" fill="#aeb1b4" />
<polygon points="167.0,420.7 169.0,419.6 169.0,422.1 167.0,423.2" fill="#75787c" />
<polygon points="172.1,416.2 176.3,413.9 176.3,418.8 172.1,421.1" fill="#aeb1b4" />
<polygon points="173.1,417.4 175.1,416.3 175.1,418.8 173.1,419.9" fill="#75787c" />
<polygon points="178.2,412.9 182.4,410.6 182.4,415.5 178.2,417.8" fill="#aeb1b4" />
<polygon points="179.2,414.1 181.2,413.0 181.2,415.5 179.2,416.6" fill="#75787c" />
<polygon points="184.3,409.6 188.5,407.3 188.5,412.2 184.3,414.5" fill="#aeb1b4" />
<polygon points="185.3,410.8 187.3,409.7 187.3,412.2 185.3,413.3" fill="#75787c" />
<polygon points="190.4,406.3 194.6,404.0 194.6,408.9 190.4,411.2" fill="#aeb1b4" />
<polygon points="191.4,407.5 193.4,406.4 193.4,408.9 191.4,410.0" fill="#75787c" />
<polygon points="196.5,403.0 200.7,400.7 200.7,405.6 196.5,407.9" fill="#aeb1b4" />
<polygon points="197.5,404.2 199.5,403.1 199.5,405.6 197.5,406.7" fill="#75787c" />
<polygon points="202.6,399.7 206.8,397.4 206.8,402.3 202.6,404.6" fill="#aeb1b4" />
<polygon points="203.6,400.9 205.6,399.8 205.6,402.3 203.6,403.4" fill="#75787c" />
<polygon points="208.7,396.4 212.9,394.1 212.9,399.0 208.7,401.3" fill="#aeb1b4" />
<polygon points="209.7,397.6 211.7,396.5 211.7,399.0 209.7,400.1" fill="#75787c" />
<polygon points="214.8,393.1 219.0,390.8 219.0,395.7 214.8,398.0" fill="#aeb1b4" />
<polygon points="215.8,394.3 217.8,393.2 217.8,395.7 215.8,396.8" fill="#75787c" />
<polygon points="161.0,410.0 168.0,406.0 174.0,409.5 174.0,413.0 167.0,416.5 161.0,413.5" fill="#b0b3b5" />
<polygon points="195.0,391.0 202.0,387.0 208.0,390.5 208.0,394.0 201.0,397.5 195.0,394.5" fill="#b0b3b5" />
<ellipse cx="170.4" cy="410.4" rx="2.375" ry="1.7812499999999998" fill="#76797d" /><ellipse cx="170.4" cy="410.4" rx="1.9" ry="1.4249999999999998" fill="#c8cacc" /><ellipse cx="170.4" cy="410.6" rx="0.855" ry="0.64125" fill="#6a6d71" />
<ellipse cx="174.8" cy="403.5" rx="2.375" ry="1.7812499999999998" fill="#76797d" /><ellipse cx="174.8" cy="403.5" rx="1.9" ry="1.4249999999999998" fill="#c8cacc" /><ellipse cx="174.8" cy="403.7" rx="0.855" ry="0.64125" fill="#6a6d71" />
<ellipse cx="185.8" cy="397.2" rx="2.375" ry="1.7812499999999998" fill="#76797d" /><ellipse cx="185.8" cy="397.2" rx="1.9" ry="1.4249999999999998" fill="#c8cacc" /><ellipse cx="185.8" cy="397.4" rx="0.855" ry="0.64125" fill="#6a6d71" />
<ellipse cx="203.5" cy="391.0" rx="2.375" ry="1.7812499999999998" fill="#76797d" /><ellipse cx="203.5" cy="391.0" rx="1.9" ry="1.4249999999999998" fill="#c8cacc" /><ellipse cx="203.5" cy="391.2" rx="0.855" ry="0.64125" fill="#6a6d71" />
<polygon points="90.5,453.3 128.3,430.5 147.2,430.5 149.1,433.8 177.8,451.3 179.0,456.6 169.9,465.0 143.9,450.0 141.3,450.7 103.5,474.1 97.0,472.8 90.5,465.7" fill="#909396" />
<polygon points="91.0,458.0 101.0,466.0 141.3,442.0 143.9,444.0 170.0,459.0 179.0,456.6 169.9,465.0 143.9,450.0 141.3,450.7 103.5,474.1 97.0,472.8 90.5,465.7" fill="#a4a7aa" />
<polyline points="95.0,462.0 146.0,432.0" fill="none" stroke="#7a7d81" stroke-width="1" />
<polygon points="104.0,468.0 107.5,466.0 107.5,469.8 104.0,471.8" fill="#7f8286" />
<polygon points="111.0,463.8 114.5,461.8 114.5,465.6 111.0,467.6" fill="#7f8286" />
<polygon points="118.0,459.6 121.5,457.6 121.5,461.4 118.0,463.4" fill="#7f8286" />
<polygon points="125.0,455.4 128.5,453.4 128.5,457.2 125.0,459.2" fill="#7f8286" />
<polygon points="132.0,451.2 135.5,449.2 135.5,453.0 132.0,455.0" fill="#7f8286" />
<polygon points="150.0,449.0 153.5,451.0 153.5,454.5 150.0,452.5" fill="#7f8286" />
<polygon points="156.5,452.5 160.0,454.5 160.0,458.0 156.5,456.0" fill="#7f8286" />
<polygon points="163.0,456.0 166.5,458.0 166.5,461.5 163.0,459.5" fill="#7f8286" />
<polygon points="169.5,459.5 173.0,461.5 173.0,465.0 169.5,463.0" fill="#7f8286" />
<polygon points="236.1,468.5 251.8,459.1 258.0,458.5 263.6,462.2 263.6,476.0 245.5,486.0 243.0,485.4 236.8,481.0" fill="#a4a7aa" />
<polygon points="236.1,468.5 251.8,459.1 258.0,458.5 263.6,462.2 247.0,472.0" fill="#b3b6b8" />
<polygon points="263.6,466.0 268.0,463.5 273.0,461.0 283.0,462.2 286.8,464.8 286.8,472.2 265.5,483.5 263.6,481.0" fill="#9c9fa2" />
<polygon points="264.9,454.1 269.2,451.0 288.0,439.8 295.5,437.2 300.5,442.2 299.2,451.0 293.0,453.5 288.0,458.5 275.5,462.2 269.2,459.8 264.9,457.2" fill="#a6a9ac" />
<polygon points="283.0,444.0 291.0,440.0 292.0,449.0 284.0,453.0" fill="#7d8084" />
<polygon points="269.2,451.0 288.0,439.8 290.0,441.0 271.0,452.5" fill="#c0c3c5" />
<polygon points="244.0,466.0 252.0,461.5 253.0,470.0 245.0,475.0" fill="#8e9195" />
<polygon points="268.0,470.0 283.0,463.0 284.0,468.0 269.0,476.0" fill="#8a8d91" />
<polyline points="299.0,445.0 309.0,439.0" fill="none" stroke="#9a9da0" stroke-width="2.5" />
<polygon points="305.5,436.0 314.2,432.2 318.0,434.1 318.6,437.9 315.5,441.6 309.2,442.2" fill="#9fa2a5" />
<ellipse cx="314.5" cy="436.0" rx="2" ry="2.5" fill="#6a6d71" />
<polygon points="544.1,426.9 562.2,417.2 567.2,418.8 616.0,451.2 626.6,456.9 608.5,463.5 604.0,461.2" fill="#95989b" />
<polygon points="544.1,426.9 604.0,461.2 608.5,463.5 608.5,468.8 604.0,467.5 544.1,433.8" fill="#a2a5a8" />
<polygon points="608.5,463.5 626.6,456.9 626.0,458.8 608.5,468.8" fill="#aaadb0" />
<polyline points="562.9,422.5 583.5,433.1" fill="none" stroke="#707377" stroke-width="2.6" stroke-linecap="round"/>
<polyline points="552.9,428.8 572.9,439.4" fill="none" stroke="#707377" stroke-width="2.6" stroke-linecap="round"/>
<polyline points="591.0,438.8 611.0,448.8" fill="none" stroke="#707377" stroke-width="2.6" stroke-linecap="round"/>
<polyline points="579.8,444.4 600.4,455.0" fill="none" stroke="#707377" stroke-width="2.6" stroke-linecap="round"/>
<ellipse cx="606.0" cy="460.5" rx="2.75" ry="2.0625" fill="#76797d" /><ellipse cx="606.0" cy="460.5" rx="2.2" ry="1.6500000000000001" fill="#c8cacc" /><ellipse cx="606.0" cy="460.7" rx="0.9900000000000001" ry="0.7425" fill="#6a6d71" />
<ellipse cx="617.0" cy="454.5" rx="2.75" ry="2.0625" fill="#76797d" /><ellipse cx="617.0" cy="454.5" rx="2.2" ry="1.6500000000000001" fill="#c8cacc" /><ellipse cx="617.0" cy="454.7" rx="0.9900000000000001" ry="0.7425" fill="#6a6d71" />
<rect x="392.50" y="9.50" width="60.00" height="18.00" rx="8" fill="#dfe3dc"/>
<text x="422.50" y="22.05" text-anchor="middle" textLength="52.3" lengthAdjust="spacingAndGlyphs">ZPT-026055</text>
<rect x="509.50" y="34.25" width="59.75" height="18.25" rx="8" fill="#dfe3dc"/>
<text x="539.38" y="46.92" text-anchor="middle" textLength="48.1" lengthAdjust="spacingAndGlyphs">ZPT-040117</text>
<rect x="333.00" y="42.00" width="60.00" height="19.00" rx="8" fill="#dfe3dc"/>
<text x="363.00" y="55.05" text-anchor="middle" textLength="52.3" lengthAdjust="spacingAndGlyphs">ZPT-026050</text>
<rect x="385.00" y="92.00" width="60.50" height="18.00" rx="8" fill="#dfe3dc"/>
<text x="415.25" y="104.55" text-anchor="middle" textLength="48.1" lengthAdjust="spacingAndGlyphs">ZPT-040115</text>
<rect x="302.00" y="116.25" width="58.75" height="18.25" rx="8" fill="#dfe3dc"/>
<text x="331.38" y="128.93" text-anchor="middle" textLength="52.3" lengthAdjust="spacingAndGlyphs">ZPT-027XXX</text>
<rect x="462.00" y="127.00" width="59.50" height="18.00" rx="8" fill="#dfe3dc"/>
<text x="491.75" y="139.55" text-anchor="middle" textLength="52.3" lengthAdjust="spacingAndGlyphs">ZPT-024050</text>
<rect x="664.25" y="144.25" width="57.50" height="18.25" rx="8" fill="#dfe3dc"/>
<text x="693.00" y="156.93" text-anchor="middle" textLength="46.0" lengthAdjust="spacingAndGlyphs">ZPT-034111</text>
<rect x="361.25" y="180.50" width="58.25" height="18.25" rx="8" fill="#dfe3dc"/>
<text x="390.38" y="193.18" text-anchor="middle" textLength="52.3" lengthAdjust="spacingAndGlyphs">ZPT-024040</text>
<rect x="594.50" y="187.50" width="57.50" height="18.00" rx="8" fill="#dfe3dc"/>
<text x="623.25" y="200.05" text-anchor="middle" textLength="50.2" lengthAdjust="spacingAndGlyphs">ZPT-024501</text>
<rect x="526.75" y="215.50" width="55.75" height="18.25" rx="8" fill="#dfe3dc"/>
<text x="554.62" y="228.18" text-anchor="middle" textLength="50.2" lengthAdjust="spacingAndGlyphs">ZPT-032081</text>
<rect x="701.00" y="213.00" width="59.00" height="18.50" rx="8" fill="#dfe3dc"/>
<text x="730.50" y="225.80" text-anchor="middle" textLength="48.1" lengthAdjust="spacingAndGlyphs">ZPT-034161</text>
<rect x="266.25" y="241.25" width="66.75" height="18.75" rx="8" fill="#dfe3dc"/>
<text x="299.62" y="254.18" text-anchor="middle" textLength="52.3" lengthAdjust="spacingAndGlyphs">ZPT-024030</text>
<rect x="478.00" y="243.00" width="56.50" height="18.25" rx="8" fill="#dfe3dc"/>
<text x="506.25" y="255.68" text-anchor="middle" textLength="50.2" lengthAdjust="spacingAndGlyphs">ZPT-033081</text>
<rect x="628.00" y="243.25" width="58.75" height="18.75" rx="8" fill="#dfe3dc"/>
<text x="657.38" y="256.18" text-anchor="middle" textLength="50.2" lengthAdjust="spacingAndGlyphs">ZPT-033061</text>
<rect x="558.25" y="265.50" width="58.25" height="18.25" rx="8" fill="#dfe3dc"/>
<text x="587.38" y="278.18" text-anchor="middle" textLength="50.2" lengthAdjust="spacingAndGlyphs">ZPT-033051</text>
<rect x="416.25" y="271.25" width="58.25" height="18.25" rx="8" fill="#dfe3dc"/>
<text x="445.38" y="283.93" text-anchor="middle" textLength="48.1" lengthAdjust="spacingAndGlyphs">ZPT-033101</text>
<rect x="509.25" y="298.00" width="58.25" height="18.25" rx="8" fill="#dfe3dc"/>
<text x="538.38" y="310.68" text-anchor="middle" textLength="48.1" lengthAdjust="spacingAndGlyphs">ZPT-024121</text>
<rect x="160.00" y="309.25" width="67.50" height="17.75" rx="8" fill="#dfe3dc"/>
<text x="193.75" y="321.68" text-anchor="middle" textLength="52.3" lengthAdjust="spacingAndGlyphs">ZPT-024020</text>
<rect x="348.00" y="313.00" width="57.75" height="19.00" rx="8" fill="#dfe3dc"/>
<text x="376.88" y="326.05" text-anchor="middle" textLength="48.1" lengthAdjust="spacingAndGlyphs">ZPT-024151</text>
<rect x="426.25" y="340.50" width="56.75" height="18.25" rx="8" fill="#dfe3dc"/>
<text x="454.62" y="353.18" text-anchor="middle" textLength="50.2" lengthAdjust="spacingAndGlyphs">ZPT-024201</text>
<rect x="279.50" y="362.50" width="62.50" height="18.25" rx="8" fill="#dfe3dc"/>
<text x="310.75" y="375.18" text-anchor="middle" textLength="48.1" lengthAdjust="spacingAndGlyphs">ZPT-035151</text>
<rect x="68.00" y="366.25" width="67.75" height="18.25" rx="8" fill="#dfe3dc"/>
<text x="101.88" y="378.93" text-anchor="middle" textLength="50.2" lengthAdjust="spacingAndGlyphs">ZPT-024180</text>
<rect x="555.50" y="366.25" width="57.00" height="18.25" rx="8" fill="#dfe3dc"/>
<text x="584.00" y="378.93" text-anchor="middle" textLength="52.3" lengthAdjust="spacingAndGlyphs">ZPT-024220</text>
<rect x="364.25" y="380.00" width="58.25" height="17.50" rx="8" fill="#dfe3dc"/>
<text x="393.38" y="392.30" text-anchor="middle" textLength="50.2" lengthAdjust="spacingAndGlyphs">ZPT-036061</text>
<rect x="289.50" y="402.50" width="58.50" height="18.25" rx="8" fill="#dfe3dc"/>
<text x="318.75" y="415.18" text-anchor="middle" textLength="48.1" lengthAdjust="spacingAndGlyphs">ZPT-036121</text>
<rect x="172.50" y="427.50" width="67.00" height="18.25" rx="8" fill="#dfe3dc"/>
<text x="206.00" y="440.18" text-anchor="middle" textLength="50.2" lengthAdjust="spacingAndGlyphs">ZPT-024301</text>
<rect x="463.00" y="420.50" width="57.75" height="18.25" rx="8" fill="#dfe3dc"/>
<text x="491.88" y="433.18" text-anchor="middle" textLength="52.3" lengthAdjust="spacingAndGlyphs">ZPT-024240</text>
<rect x="294.25" y="459.25" width="57.50" height="18.25" rx="8" fill="#dfe3dc"/>
<text x="323.00" y="471.93" text-anchor="middle" textLength="52.3" lengthAdjust="spacingAndGlyphs">ZPT-028600</text>
<rect x="536.25" y="465.00" width="57.50" height="17.50" rx="8" fill="#dfe3dc"/>
<text x="565.00" y="477.30" text-anchor="middle" textLength="52.3" lengthAdjust="spacingAndGlyphs">ZPT-025300</text>
<rect x="113.00" y="475.00" width="67.00" height="18.25" rx="8" fill="#dfe3dc"/>
<text x="146.50" y="487.68" text-anchor="middle" textLength="48.1" lengthAdjust="spacingAndGlyphs">ZPT-024161</text>
</svg>
</body></html>
